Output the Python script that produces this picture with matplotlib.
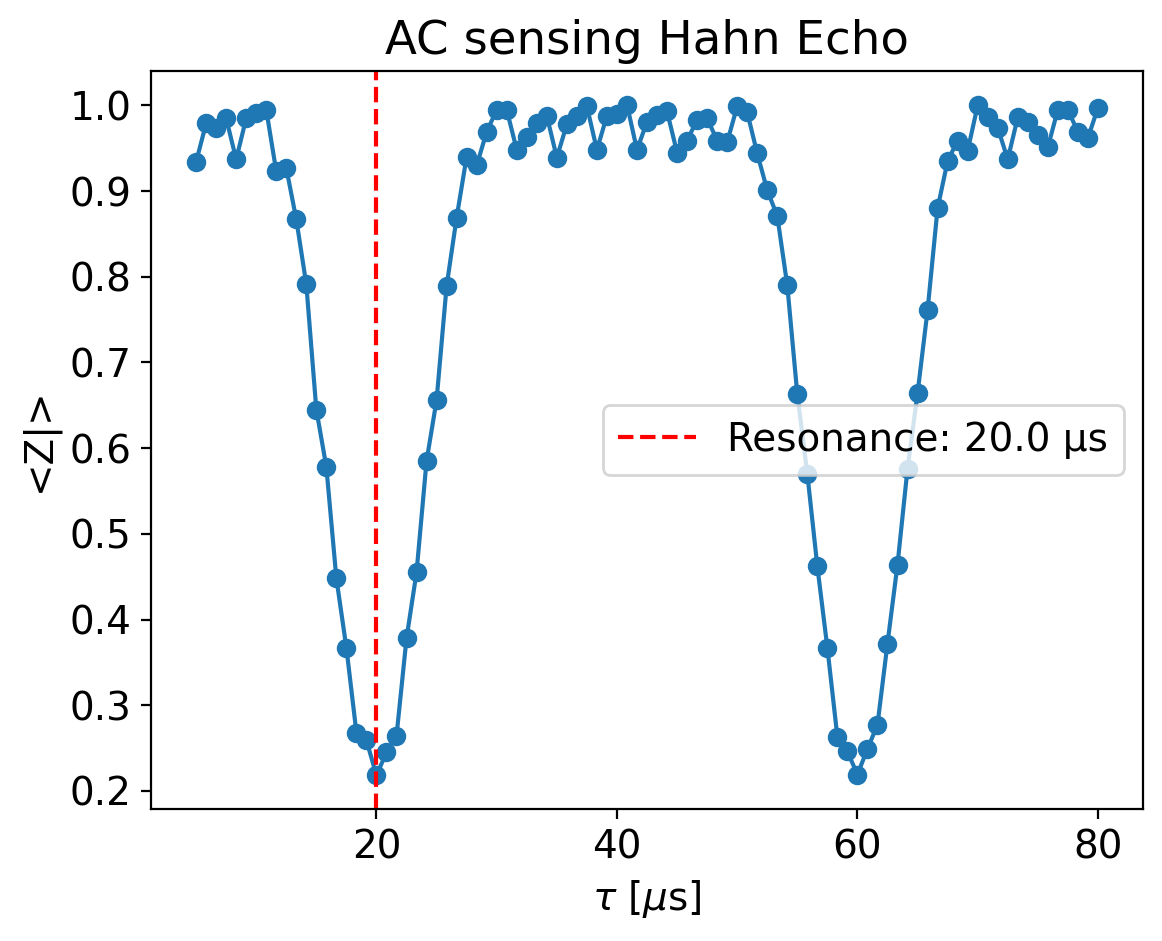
import matplotlib.pyplot as plt
import numpy as np

plt.rcParams['font.size'] = 14

# pulse spacing tau in microseconds, 91 points from 5 to 80
tau = np.linspace(5, 80, 91)
z = [0.934, 0.979, 0.974, 0.985, 0.937, 0.985, 0.991, 0.995, 0.923, 0.927,
     0.867, 0.791, 0.645, 0.578, 0.448, 0.367, 0.268, 0.259, 0.218, 0.245,
     0.264, 0.378, 0.455, 0.585, 0.656, 0.789, 0.869, 0.940, 0.930, 0.969,
     0.995, 0.995, 0.948, 0.963, 0.979, 0.988, 0.939, 0.978, 0.988, 0.999,
     0.948, 0.988, 0.990, 1.001, 0.948, 0.981, 0.989, 0.993, 0.945, 0.959,
     0.983, 0.985, 0.959, 0.957, 0.999, 0.992, 0.944, 0.901, 0.871, 0.790,
     0.663, 0.570, 0.462, 0.367, 0.263, 0.246, 0.219, 0.249, 0.277, 0.372,
     0.464, 0.576, 0.664, 0.761, 0.880, 0.935, 0.959, 0.947, 1.000, 0.987,
     0.974, 0.937, 0.986, 0.981, 0.965, 0.951, 0.995, 0.995, 0.969, 0.962,
     0.997]
resonance = 20.0

fig = plt.figure(figsize=(1162 / 200, 941 / 200), dpi=200)
ax = fig.add_axes([151 / 1162, 132 / 941, 992 / 1162, 738 / 941])

ax.plot(tau, z, 'o-')
ax.axvline(resonance, color='r', linestyle='--', label=f'Resonance: {resonance} µs')
ax.set_xlabel(r'$\tau$ [$\mu$s]')
ax.set_ylabel('<Z|>')
ax.set_title('AC sensing Hahn Echo')
ax.legend(loc='center right')

fig.savefig('out.png', dpi=200)
